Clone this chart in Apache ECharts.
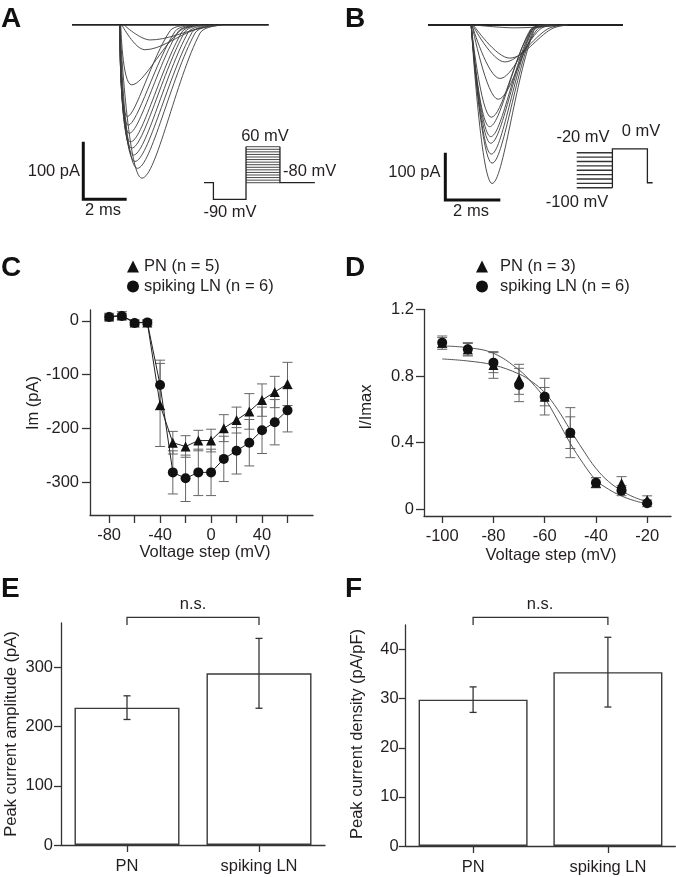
<!DOCTYPE html>
<html><head><meta charset="utf-8">
<script src="https://cdn.jsdelivr.net/npm/echarts@6/dist/echarts.min.js"></script>
<style>html,body{margin:0;padding:0;background:#fff}#c{width:676px;height:877px}</style>
</head><body><div id="c"></div>
<script>
// ---------- Panel A: example Na+ current traces (ms, pA), key points
const traceA_onset    = [2.2, 2.2, 2.2, 2.2, 2.2, 2.2, 2.2, 2.2, 2.2, 2.25, 2.3, 2.4];
const traceA_troughT  = [3.22, 3.01, 2.90, 2.83, 2.75, 2.70, 2.64, 2.59, 2.55, 2.75, 3.36, 3.6];
const traceA_troughA  = [-266, -249, -237, -226, -214, -203, -188, -174, -159, -104, -43, -26];
const traceA_returnT  = [5.9, 5.67, 5.53, 5.35, 5.2, 5.07, 4.88, 4.75, 4.52, 4.98, 5.67, 5.9];
const traceA_returnA  = [-14, -14, -13, -13, -12, -12, -12, -11, -10, -10, -8, -6];
const traceA_settleT  = [6.9, 6.6, 6.4, 6.2, 6.0, 5.9, 5.7, 5.6, 5.4, 5.9, 6.6, 6.9];
const traceA_end = 9.07;
const scaleA = [[0.52, -202.6], [0.52, -302.6], [2.52, -302.6]];     // 100 pA / 2 ms
// protocol A (schematic: ms, mV; the -90 mV prepulse is drawn exaggerated)
const protoA_outline = [[0, -80], [2.8, -80], [2.8, -145], [12.5, -145], [12.5, 60]];
const protoA_tail = [[22.6, 60], [22.6, -80], [33, -80]];
const protoA_steps = [-80, -70, -60, -50, -40, -30, -20, -10, 0, 10, 20, 30, 40, 50, 60];
const protoA_stepT = [12.5, 22.6];

// ---------- Panel B
const traceB_onset    = [1.57, 1.57, 1.57, 1.57, 1.57, 1.57, 1.57, 1.6, 1.6, 1.62, 1.65, 1.7];
const traceB_troughT  = [2.33, 2.33, 2.30, 2.28, 2.28, 2.24, 2.30, 2.55, 2.61, 2.79, 2.97, 3.16];
const traceB_troughA  = [-335, -292, -273, -250, -236, -215, -195, -157, -113, -78, -70, -6];
const traceB_returnT  = [3.85, 3.82, 3.78, 3.78, 3.75, 3.72, 3.75, 3.96, 4.07, 4.36, 4.5, 4.6];
const traceB_returnA  = [-12, -12, -12, -11, -11, -10, -10, -10, -9, -8, -8, -2];
const traceB_settleT  = [4.5, 4.45, 4.4, 4.4, 4.35, 4.3, 4.35, 4.6, 4.7, 5.0, 5.1, 5.0];
const traceB_end = 7.09;
const scaleB = [[0.63, -270], [0.63, -370], [2.63, -370]];
// protocol B (schematic)
const protoB_steps = [-100, -90, -80, -70, -60, -50, -40, -30, -20];
const protoB_stepT = [0, 10.2];
const protoB_outline = [[10.2, -100], [10.2, -11], [20.2, -11], [20.2, -88.6], [21.7, -88.6]];

// ---------- Panel C: I-V
const ivVoltages = [-80, -70, -60, -50, -40, -30, -20, -10, 0, 10, 20, 30, 40, 50, 60];
const ivPN    = [8, 10, -3, -3, -156, -226, -233, -222, -222, -199, -184, -168, -147, -132, -117];
const ivPNErr = [6, 7, 5, 5, 77, 21, 20, 19, 21, 25, 24, 33, 30, 29, 40];
const ivLN    = [7, 9, -4, -3, -119, -281, -292, -281, -281, -256, -241, -226, -203, -188, -166];
const ivLNErr = [5, 5, 4, 4, 46, 40, 43, 43, 43, 42, 43, 43, 43, 42, 40];
const cXTicks = [-80, -60, -40, -20, 0, 20, 40, 60];
const cXLabels = [-80, -40, 0, 40];
const cYLabels = [0, -100, -200, -300];

// ---------- Panel D: steady-state inactivation
const inVoltages = [-100, -90, -80, -70, -60, -50, -40, -30, -20];
const inPN    = [1.0, 0.96, 0.866, 0.78, 0.676, 0.46, 0.16, 0.156, 0.056];
const inPNErr = [0.03, 0.04, 0.08, 0.09, 0.11, 0.15, 0.03, 0.04, 0.025];
const inLN    = [1.0, 0.96, 0.88, 0.746, 0.676, 0.46, 0.16, 0.112, 0.036];
const inLNErr = [0.04, 0.035, 0.06, 0.1, 0.055, 0.095, 0.03, 0.03, 0.02];
const fitV  = [-100, -90, -80, -70, -65, -60, -55, -50, -45, -40, -35, -30, -25, -20];
const fit1  = [0.98, 0.97, 0.936, 0.836, 0.76, 0.666, 0.536, 0.396, 0.276, 0.176, 0.12, 0.08, 0.052, 0.032];
const fit2  = [0.902, 0.89, 0.866, 0.812, 0.766, 0.70, 0.60, 0.476, 0.356, 0.246, 0.166, 0.112, 0.072, 0.046];
const dXLabels = [-100, -80, -60, -40, -20];
const dYLabels = [0, 0.4, 0.8, 1.2];

// ---------- Panels E, F
const groups = ['PN', 'spiking LN'];
const ampMean = [232, 290];
const ampErr  = [20, 59];
const densMean = [29.8, 35.4];
const densErr  = [2.6, 7.1];
const eYLabels = [0, 100, 200, 300];
const fYLabels = [0, 10, 20, 30, 40];

// ======================================================
const FONT = 'Liberation Sans';
const TXT = '#231f20';
const AX = '#333';
const FS = 16.5;

function pairs(xs, ys) { return xs.map((x, i) => [x, ys[i]]); }

function traceSeries(g, on, tT, tA, rT, rA, sT) {
  return on.map((o, i) => ({
    type: 'line', xAxisIndex: g, yAxisIndex: g, silent: true, showSymbol: false, smooth: 0.35,
    clip: false, lineStyle: { color: '#3a3a3a', width: 0.9 },
    data: [[o, 0], [tT[i], tA[i]], [rT[i], rA[i]], [sT[i], 0]]
  }));
}
function polySeries(g, data, width, color, z) {
  return { type: 'line', xAxisIndex: g, yAxisIndex: g, silent: true, showSymbol: false, clip: false,
    lineStyle: { color: color, width: width, cap: 'butt', join: 'miter' }, data: data, z: z || 2 };
}
function stepSeries(g, levels, tRange, width) {
  return { type: 'custom', xAxisIndex: g, yAxisIndex: g, silent: true, clip: false,
    data: levels.map(v => [tRange[0], v, tRange[1]]), encode: { x: [0, 2], y: 1 },
    renderItem: (p, api) => {
      const a = api.coord([api.value(0), api.value(1)]);
      const b = api.coord([api.value(2), api.value(1)]);
      return { type: 'line', shape: { x1: a[0], y1: a[1], x2: b[0], y2: b[1] }, style: { stroke: '#333', lineWidth: width } };
    } };
}
function errSeries(g, xs, means, errs, cap, color, width, z) {
  return { type: 'custom', xAxisIndex: g, yAxisIndex: g, silent: true, clip: false, z: z || 1,
    data: xs.map((x, i) => [x, means[i] - errs[i], means[i] + errs[i]]), encode: { x: 0, y: [1, 2] },
    renderItem: (p, api) => {
      const lo = api.coord([api.value(0), api.value(1)]);
      const hi = api.coord([api.value(0), api.value(2)]);
      const st = { stroke: color, lineWidth: width };
      return { type: 'group', children: [
        { type: 'line', shape: { x1: lo[0], y1: lo[1], x2: hi[0], y2: hi[1] }, style: st },
        { type: 'line', shape: { x1: lo[0] - cap, y1: lo[1], x2: lo[0] + cap, y2: lo[1] }, style: st },
        { type: 'line', shape: { x1: hi[0] - cap, y1: hi[1], x2: hi[0] + cap, y2: hi[1] }, style: st }
      ] };
    } };
}
const hiddenX = (min, max, g) => ({ type: 'value', gridIndex: g, min, max, show: false });
const hiddenY = (min, max, g) => ({ type: 'value', gridIndex: g, min, max, show: false });
function valAxis(g, min, max, ticks, labels, isY, margin, tickLen) {
  return { type: 'value', gridIndex: g, min, max, position: isY ? 'left' : 'bottom',
    axisLine: { show: true, onZero: false, lineStyle: { color: AX, width: 1.3 } },
    axisTick: { show: true, inside: false, length: tickLen, customValues: ticks, lineStyle: { color: AX, width: 1.3 } },
    axisLabel: { show: true, customValues: labels, margin: margin, fontFamily: FONT, fontSize: FS, color: TXT,
      showMinLabel: true, showMaxLabel: true },
    splitLine: { show: false } };
}
function catAxis(g) {
  return { type: 'category', gridIndex: g, data: groups,
    axisLine: { show: true, lineStyle: { color: AX, width: 1.3 } },
    axisTick: { show: true, alignWithLabel: true, length: 7, lineStyle: { color: AX, width: 1.3 } },
    axisLabel: { margin: 13, fontFamily: FONT, fontSize: FS, color: TXT } };
}
function txt(x, y, s, align, opts) {
  return Object.assign({ type: 'text', x: x, y: y, silent: true,
    style: { text: s, fontFamily: FONT, fontSize: FS, fill: TXT, align: align || 'center', verticalAlign: 'middle' } }, opts || {});
}
function letter(x, y, s) {
  return { type: 'text', x: x, y: y, silent: true,
    style: { text: s, fontFamily: FONT, fontSize: 28, fontWeight: 'bold', fill: '#111', align: 'left', verticalAlign: 'middle' } };
}
function rot(x, y, s) {
  return { type: 'text', x: x, y: y, rotation: Math.PI / 2, silent: true,
    style: { text: s, fontFamily: FONT, fontSize: FS, fill: TXT, align: 'center', verticalAlign: 'middle' } };
}

const grid = [
  { left: 72, top: 14.6, width: 217, height: 200.4 },        // 0 A traces
  { left: 204, top: 139.0, width: 110.9, height: 72 },       // 1 A protocol
  { left: 428, top: 15.07, width: 220, height: 200.1 },      // 2 B traces
  { left: 576.7, top: 139.6, width: 77, height: 56.9 },      // 3 B protocol
  { left: 90, top: 310, width: 223, height: 205 },           // 4 C
  { left: 424, top: 309.3, width: 247, height: 206.7 },      // 5 D
  { left: 61, top: 623, width: 264, height: 222 },           // 6 E
  { left: 405.7, top: 625, width: 269.6, height: 221 }       // 7 F
];

const xAxis = [
  hiddenX(0, 10, 0), hiddenX(0, 33, 1), hiddenX(0, 8, 2), hiddenX(0, 22, 3),
  valAxis(4, -95, 80, cXTicks, cXLabels, false, 12, 8),
  valAxis(5, -107.1, -10.7, dXLabels, dXLabels, false, 12, 7),
  catAxis(6), catAxis(7)
];
const yAxis = [
  hiddenY(-330, 18, 0), hiddenY(-190, 90, 1), hiddenY(-402, 21, 2), hiddenY(-120, 10, 3),
  valAxis(4, -360, 20, cYLabels, cYLabels, true, 11, 8),
  valAxis(5, -0.04, 1.2, dYLabels, dYLabels, true, 10, 8),
  valAxis(6, 0, 375, eYLabels, eYLabels, true, 8, 7),
  valAxis(7, 0, 45, fYLabels, fYLabels, true, 7, 7)
];

let series = [];
// A
series.push(polySeries(0, [[0, 0], [traceA_end, 0]], 1.8, '#222', 3));
series = series.concat(traceSeries(0, traceA_onset, traceA_troughT, traceA_troughA, traceA_returnT, traceA_returnA, traceA_settleT));
series.push(polySeries(0, scaleA, 3, '#111'));
series.push(polySeries(1, protoA_outline, 1.3, '#222'));
series.push(polySeries(1, protoA_tail, 1.3, '#222'));
series.push(stepSeries(1, protoA_steps, protoA_stepT, 0.9));
// B
series.push(polySeries(2, [[0, 0], [traceB_end, 0]], 1.8, '#222', 3));
series = series.concat(traceSeries(2, traceB_onset, traceB_troughT, traceB_troughA, traceB_returnT, traceB_returnA, traceB_settleT));
series.push(polySeries(2, scaleB, 3, '#111'));
series.push(stepSeries(3, protoB_steps, protoB_stepT, 1.3));
series.push(polySeries(3, protoB_outline, 1.3, '#222'));
// C
series.push(errSeries(4, ivVoltages, ivPN, ivPNErr, 5, '#666', 1));
series.push(errSeries(4, ivVoltages, ivLN, ivLNErr, 5, '#666', 1));
series.push({ name: 'PN (n = 5)', type: 'line', xAxisIndex: 4, yAxisIndex: 4, data: pairs(ivVoltages, ivPN),
  symbol: 'triangle', symbolSize: 10, itemStyle: { color: '#111', opacity: 1 }, lineStyle: { color: '#222', width: 1 }, z: 3 });
series.push({ name: 'spiking LN (n = 6)', type: 'line', xAxisIndex: 4, yAxisIndex: 4, data: pairs(ivVoltages, ivLN),
  symbol: 'circle', symbolSize: 10, itemStyle: { color: '#111', opacity: 1 }, lineStyle: { color: '#222', width: 1 }, z: 3 });
// D
series.push(errSeries(5, inVoltages, inPN, inPNErr, 5, '#666', 1));
series.push(errSeries(5, inVoltages, inLN, inLNErr, 5, '#666', 1));
series.push({ type: 'line', xAxisIndex: 5, yAxisIndex: 5, data: pairs(fitV, fit1), smooth: 0.4, showSymbol: false, silent: true,
  lineStyle: { color: '#555', width: 1 }, z: 2 });
series.push({ type: 'line', xAxisIndex: 5, yAxisIndex: 5, data: pairs(fitV, fit2), smooth: 0.4, showSymbol: false, silent: true,
  lineStyle: { color: '#555', width: 1 }, z: 2 });
series.push({ name: 'PN (n = 3)', type: 'scatter', xAxisIndex: 5, yAxisIndex: 5, data: pairs(inVoltages, inPN),
  symbol: 'triangle', symbolSize: 10, itemStyle: { color: '#111', opacity: 1 }, z: 3 });
series.push({ name: 'spiking LN (n = 6)', type: 'scatter', xAxisIndex: 5, yAxisIndex: 5, data: pairs(inVoltages, inLN),
  symbol: 'circle', symbolSize: 10, itemStyle: { color: '#111', opacity: 1 }, z: 4 });
// E
series.push({ type: 'bar', xAxisIndex: 6, yAxisIndex: 6, data: ampMean, barWidth: 105,
  itemStyle: { color: '#fff', borderColor: '#3a3a3a', borderWidth: 1.4 }, silent: true, z: 2 });
series.push(errSeries(6, [0, 1], ampMean, ampErr, 3.5, '#333', 1.3, 5));
series.push(polySeries(6, [[0, 371.6], [0, 384.6], [1, 384.6], [1, 371.6]], 1.3, '#333'));
// F
series.push({ type: 'bar', xAxisIndex: 7, yAxisIndex: 7, data: densMean, barWidth: 109,
  itemStyle: { color: '#fff', borderColor: '#3a3a3a', borderWidth: 1.4 }, silent: true, z: 2 });
series.push(errSeries(7, [0, 1], densMean, densErr, 3.5, '#333', 1.3, 5));
series.push(polySeries(7, [[0, 45.0], [0, 46.57], [1, 46.57], [1, 45.0]], 1.3, '#333'));

const legendBase = { orient: 'vertical', itemWidth: 12, itemHeight: 12, itemGap: 3, selectedMode: false,
  textStyle: { fontFamily: FONT, fontSize: FS, color: TXT } };

const option = {
  animation: false,
  backgroundColor: '#fff',
  grid: grid,
  xAxis: xAxis,
  yAxis: yAxis,
  legend: [
    Object.assign({}, legendBase, { left: 122, top: 253,
      data: [{ name: 'PN (n = 5)', icon: 'triangle' }, { name: 'spiking LN (n = 6)', icon: 'circle' }] }),
    Object.assign({}, legendBase, { left: 471, top: 253,
      textStyle: { fontFamily: FONT, fontSize: FS, color: TXT, padding: [0, 0, 0, 7] },
      data: [{ name: 'PN (n = 3)', icon: 'triangle' }, { name: 'spiking LN (n = 6)', icon: 'circle' }] })
  ],
  series: series,
  graphic: [
    letter(1, 19, 'A'), letter(345, 19, 'B'), letter(1, 268, 'C'), letter(345, 268, 'D'),
    letter(1, 589, 'E'), letter(345, 589, 'F'),
    txt(80, 171, '100 pA', 'right'), txt(103, 210, '2 ms'),
    txt(265, 136, '60 mV'), txt(283, 171, '-80 mV', 'left'), txt(230, 212, '-90 mV'),
    txt(440.5, 172, '100 pA', 'right'), txt(471, 211, '2 ms'),
    txt(583, 137.5, '-20 mV'), txt(641, 131, '0 mV'), txt(577, 202, '-100 mV'),
    rot(33, 403, 'Im (pA)'), txt(205, 552, 'Voltage step (mV)'),
    rot(366, 407, 'I/Imax'), txt(551, 555, 'Voltage step (mV)'),
    rot(11, 734, 'Peak current amplitude (pA)'), txt(193, 604, 'n.s.'),
    rot(357, 734, 'Peak current density (pA/pF)'), txt(540, 604, 'n.s.')
  ]
};
const chart = echarts.init(document.getElementById('c'));
chart.setOption(option);
</script>
</body></html>
